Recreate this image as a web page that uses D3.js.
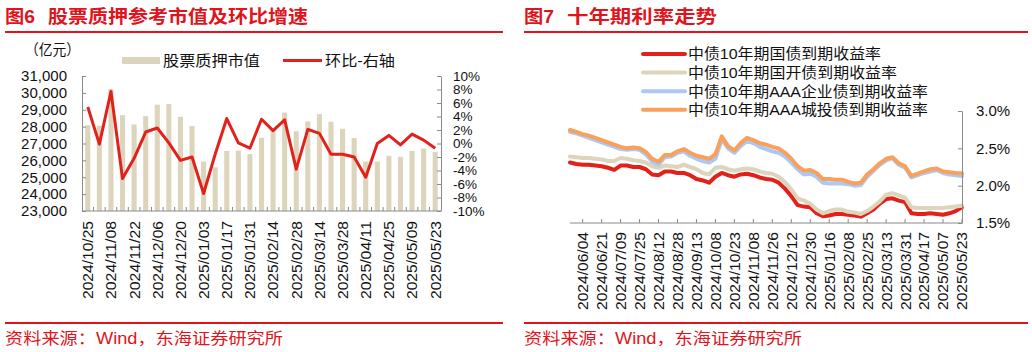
<!DOCTYPE html>
<html lang="zh">
<head>
<meta charset="utf-8">
<title>股票质押参考市值及十年期利率走势</title>
<script src="https://d3js.org/d3.v7.min.js"></script>
<style>
  body { margin: 0; background: #fff; }
  svg { display: block; font-family: "Liberation Sans", Arial, "Noto Sans CJK SC", sans-serif; }
</style>
</head>
<body>
<svg width="1032" height="352"></svg>
<script>
// ---- left chart data (weekly) ----
const pledgeDates = ["2024/10/25","2024/11/01","2024/11/08","2024/11/15","2024/11/22","2024/11/29","2024/12/06","2024/12/13",
  "2024/12/20","2024/12/27","2025/01/03","2025/01/10","2025/01/17","2025/01/24","2025/01/31","2025/02/07","2025/02/14",
  "2025/02/21","2025/02/28","2025/03/07","2025/03/14","2025/03/21","2025/03/28","2025/04/04","2025/04/11","2025/04/18",
  "2025/04/25","2025/05/02","2025/05/09","2025/05/16","2025/05/23"];
const pledgeValue = [28090,28050,30230,28680,28130,28620,29300,29340,28580,28030,25930,25590,26560,26580,26370,27340,
  27800,28830,27730,28310,28740,28290,27870,27320,25930,25930,26270,26210,26560,26700,26500];
const pledgeChg = [5.4,-0.1,7.7,-5.2,-2.2,1.7,2.3,0.1,-2.5,-2.0,-7.4,-1.6,3.7,0.1,-0.7,3.6,1.9,3.5,-3.8,2.1,1.5,-1.6,
  -1.6,-2.0,-5.0,0.0,1.2,-0.2,1.4,0.5,-0.7];
const leftTicks = [23000,24000,25000,26000,27000,28000,29000,30000,31000];
const rightTicks = [-10,-8,-6,-4,-2,0,2,4,6,8,10];

// ---- right chart data (sampled about every 4 trading days) ----
const rateLabels = ["2024/06/04","2024/06/21","2024/07/09","2024/07/25","2024/08/12","2024/08/28","2024/09/13",
  "2024/10/08","2024/10/23","2024/11/08","2024/11/26","2024/12/12","2024/12/30","2025/01/16","2025/02/08",
  "2025/02/25","2025/03/13","2025/03/31","2025/04/17","2025/05/07","2025/05/23"];
const govBond = [2.31,2.29,2.28,2.28,2.27,2.26,2.24,2.21,2.27,2.27,2.25,2.25,2.22,2.15,2.14,2.19,2.19,2.17,2.17,2.14,
  2.09,2.07,2.04,2.12,2.17,2.14,2.12,2.15,2.16,2.14,2.11,2.09,2.08,2.04,1.96,1.86,1.74,1.72,1.71,1.63,1.59,1.60,1.62,
  1.62,1.61,1.60,1.585,1.63,1.68,1.76,1.82,1.83,1.80,1.78,1.63,1.62,1.62,1.63,1.62,1.61,1.63,1.66,1.71];
const cdbBond = [2.39,2.38,2.37,2.37,2.36,2.35,2.33,2.33,2.37,2.36,2.34,2.33,2.31,2.26,2.24,2.27,2.26,2.25,2.28,2.25,
  2.22,2.17,2.15,2.24,2.25,2.22,2.20,2.22,2.23,2.22,2.19,2.17,2.16,2.12,2.05,1.95,1.83,1.80,1.76,1.68,1.63,1.66,1.68,
  1.68,1.65,1.64,1.62,1.66,1.72,1.79,1.88,1.90,1.87,1.84,1.71,1.70,1.70,1.70,1.70,1.70,1.71,1.72,1.73];
const corpAAA = [2.72,2.70,2.67,2.64,2.61,2.58,2.55,2.52,2.49,2.48,2.49,2.48,2.42,2.32,2.28,2.38,2.39,2.44,2.46,2.40,
  2.36,2.33,2.31,2.36,2.62,2.50,2.44,2.53,2.60,2.57,2.52,2.49,2.46,2.44,2.39,2.31,2.22,2.15,2.16,2.12,2.04,2.03,2.03,
  2.03,2.02,2.00,2.01,2.12,2.20,2.28,2.34,2.37,2.28,2.24,2.11,2.14,2.17,2.19,2.21,2.17,2.15,2.14,2.13];
const lgfvAAA = [2.745,2.72,2.69,2.67,2.64,2.61,2.58,2.55,2.52,2.50,2.51,2.50,2.45,2.36,2.32,2.41,2.41,2.46,2.49,2.44,
  2.40,2.38,2.36,2.42,2.66,2.53,2.47,2.57,2.64,2.61,2.57,2.55,2.52,2.50,2.44,2.36,2.26,2.20,2.21,2.17,2.09,2.09,2.08,
  2.08,2.05,2.03,2.04,2.15,2.22,2.30,2.36,2.38,2.30,2.26,2.13,2.16,2.19,2.22,2.23,2.19,2.18,2.17,2.165];
const rateTicks = [1.5,2.0,2.5,3.0];

const RED = "#e3211b", BEIGE = "#ddd4bc", BLUE = "#abc9f4", ORANGE = "#f9a05c", TITLE_RED = "#e0141c";
const AXIS = "#8a8a8a", INK = "#111";

const svg = d3.select("svg");

// ---- frame: titles, rules, sources ----
function panelFrame(x0, x1, num, title, titleLen) {
  svg.append("text").attr("x", x0).attr("y", 23).attr("fill", TITLE_RED)
    .attr("font-size", 18).attr("font-weight", "bold")
    .attr("textLength", 30).attr("lengthAdjust", "spacingAndGlyphs").text("图" + num);
  svg.append("text").attr("x", x0 + 43).attr("y", 23).attr("fill", TITLE_RED)
    .attr("font-size", 18).attr("font-weight", "bold")
    .attr("textLength", titleLen).attr("lengthAdjust", "spacingAndGlyphs").text(title);
  svg.append("line").attr("x1", x0).attr("x2", x1).attr("y1", 32).attr("y2", 32)
    .attr("stroke", TITLE_RED).attr("stroke-width", 2);
  svg.append("line").attr("x1", x0).attr("x2", x1).attr("y1", 323).attr("y2", 323)
    .attr("stroke", TITLE_RED).attr("stroke-width", 2);
  svg.append("text").attr("x", x0).attr("y", 344).attr("fill", TITLE_RED)
    .attr("font-size", 16).attr("textLength", 278).attr("lengthAdjust", "spacingAndGlyphs")
    .text("资料来源：Wind，东海证券研究所");
}
panelFrame(5, 503, 6, "股票质押参考市值及环比增速", 260);
panelFrame(524, 1028, 7, "十年期利率走势", 150);

// ---- left chart ----
const xL = d3.scaleBand().domain(pledgeDates).range([82, 441]).paddingInner(0.56).paddingOuter(0.28);
const yL = d3.scaleLinear().domain([23000, 31000]).range([211, 76]);
const yR = d3.scaleLinear().domain([-10, 10]).range([211, 76]);

svg.append("g").selectAll("rect").data(pledgeValue).join("rect")
  .attr("x", (d, i) => xL(pledgeDates[i]))
  .attr("width", xL.bandwidth())
  .attr("y", d => yL(d))
  .attr("height", d => yL(23000) - yL(d))
  .attr("fill", BEIGE);

const lineL = d3.line()
  .x((d, i) => xL(pledgeDates[i]) + xL.bandwidth() / 2)
  .y(d => yR(d));
svg.append("path").datum(pledgeChg).attr("d", lineL)
  .attr("fill", "none").attr("stroke", RED).attr("stroke-width", 3).attr("stroke-linejoin", "round");

function styleAxis(size) {
  return g => {
    g.select(".domain").attr("stroke", AXIS);
    g.selectAll(".tick line").attr("stroke", AXIS);
    g.selectAll(".tick text").attr("fill", INK).attr("font-size", size)
      .attr("font-family", "'Liberation Sans', Arial, sans-serif");
  };
}

svg.append("g").attr("transform", "translate(82,0)")
  .call(d3.axisLeft(yL).tickValues(leftTicks).tickSize(-4).tickSizeOuter(0).tickPadding(15).tickFormat(d3.format(",")))
  .call(styleAxis(15));
svg.append("g").attr("transform", "translate(441,0)")
  .call(d3.axisRight(yR).tickValues(rightTicks).tickSize(-4).tickSizeOuter(0).tickPadding(12).tickFormat(d => d + "%"))
  .call(styleAxis(13.5));

// bottom axis of left chart: ticks at category boundaries
const gxL = svg.append("g");
gxL.append("line").attr("x1", 82).attr("x2", 441).attr("y1", 211).attr("y2", 211).attr("stroke", AXIS);
gxL.selectAll("line.tk").data(pledgeDates.slice(1)).join("line").attr("class", "tk")
  .attr("x1", d => xL(d) - xL.step() * xL.paddingInner() / 2)
  .attr("x2", d => xL(d) - xL.step() * xL.paddingInner() / 2)
  .attr("y1", 211).attr("y2", 207).attr("stroke", AXIS);
gxL.selectAll("text").data(pledgeDates.filter((d, i) => i % 2 === 0)).join("text")
  .attr("transform", d => `translate(${xL(d) + xL.bandwidth() / 2},221) rotate(-90)`)
  .attr("text-anchor", "end").attr("dy", "0.36em")
  .attr("font-size", 15).attr("fill", INK)
  .attr("textLength", 78).attr("lengthAdjust", "spacingAndGlyphs")
  .text(d => d);

// unit + legend
svg.append("text").attr("x", 25).attr("y", 55).attr("font-size", 15).attr("fill", INK)
  .attr("textLength", 55).attr("lengthAdjust", "spacingAndGlyphs").text("（亿元）");
svg.append("rect").attr("x", 122).attr("y", 57).attr("width", 38).attr("height", 7).attr("fill", BEIGE);
svg.append("text").attr("x", 163).attr("y", 66).attr("font-size", 15).attr("fill", INK)
  .attr("textLength", 97).attr("lengthAdjust", "spacingAndGlyphs").text("股票质押市值");
svg.append("line").attr("x1", 283).attr("x2", 322).attr("y1", 60.5).attr("y2", 60.5)
  .attr("stroke", RED).attr("stroke-width", 3);
svg.append("text").attr("x", 325).attr("y", 66).attr("font-size", 15).attr("fill", INK)
  .attr("textLength", 70).attr("lengthAdjust", "spacingAndGlyphs").text("环比-右轴");

// ---- right chart ----
const sampleIdx = d3.range(govBond.length);
const xRate = d3.scalePoint().domain(sampleIdx).range([570, 962]);
const yRate = d3.scaleLinear().domain([1.5, 3.0]).range([223, 111]);

const series = [
  { name: "中债10年期国债到期收益率", values: govBond, color: RED, len: 193 },
  { name: "中债10年期国开债到期收益率", values: cdbBond, color: BEIGE, len: 209 },
  { name: "中债10年期AAA企业债到期收益率", values: corpAAA, color: BLUE, len: 240 },
  { name: "中债10年期AAA城投债到期收益率", values: lgfvAAA, color: ORANGE, len: 240 }
];

const lineR = d3.line().x((d, i) => xRate(i)).y(d => yRate(d));
svg.append("g").selectAll("path").data(series).join("path")
  .attr("d", s => lineR(s.values))
  .attr("fill", "none").attr("stroke", s => s.color).attr("stroke-width", 4)
  .attr("stroke-linejoin", "round").attr("stroke-linecap", "round");

svg.append("g").attr("transform", "translate(962,0)")
  .call(d3.axisRight(yRate).tickValues(rateTicks).tickSize(-4).tickSizeOuter(0).tickPadding(14)
    .tickFormat(d => d3.format(".1f")(d) + "%"))
  .call(styleAxis(15));

const labelIdx = rateLabels.map((d, j) => 2 + 3 * j);
const gxR = svg.append("g");
gxR.append("line").attr("x1", 570).attr("x2", 962).attr("y1", 223).attr("y2", 223).attr("stroke", AXIS);
gxR.selectAll("line.tk").data(labelIdx).join("line").attr("class", "tk")
  .attr("x1", d => xRate(d)).attr("x2", d => xRate(d))
  .attr("y1", 223).attr("y2", 219).attr("stroke", AXIS);
gxR.selectAll("text").data(rateLabels).join("text")
  .attr("transform", (d, j) => `translate(${xRate(labelIdx[j])},232) rotate(-90)`)
  .attr("text-anchor", "end").attr("dy", "0.36em")
  .attr("font-size", 15).attr("fill", INK)
  .attr("textLength", 78).attr("lengthAdjust", "spacingAndGlyphs")
  .text(d => d);

// legend
const lg = svg.append("g").selectAll("g").data(series).join("g")
  .attr("transform", (d, i) => `translate(643,${54 + i * 18.6})`);
lg.append("line").attr("x1", 0).attr("x2", 42).attr("stroke", d => d.color).attr("stroke-width", 4)
  .attr("stroke-linecap", "round");
lg.append("text").attr("x", 45).attr("dy", "0.36em").attr("font-size", 15).attr("fill", INK)
  .attr("textLength", d => d.len).attr("lengthAdjust", "spacingAndGlyphs")
  .text(d => d.name);
</script>
</body>
</html>
